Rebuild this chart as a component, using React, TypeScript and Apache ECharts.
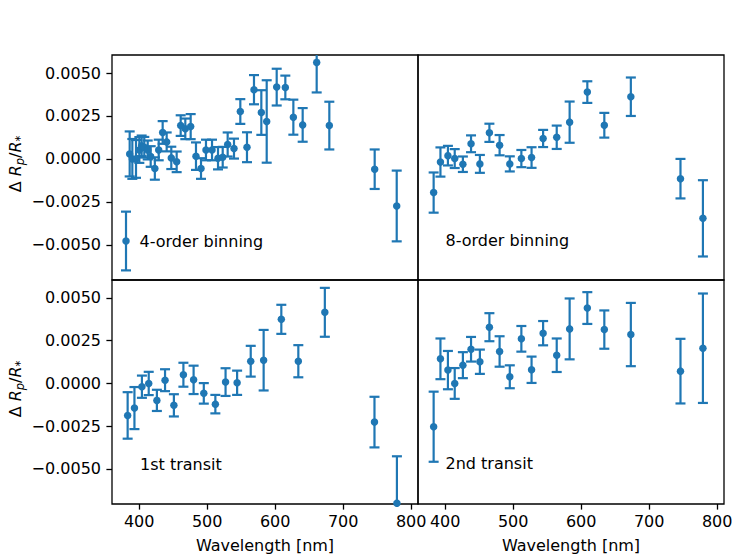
import React, { useEffect, useRef } from "react";
import * as echarts from "echarts";

// ---- data (wavelength in nm, ΔRp/R* values and 1σ errors) ----
const wl4 = [380.6, 386.0, 389.9, 395.3, 400.2, 403.6, 407.5, 412.5, 416.9, 423.0, 428.7, 434.5, 440.4, 447.2, 455.1, 461.0, 467.8, 475.7, 483.5, 490.9, 498.2, 507.1, 515.9, 522.8, 530.1, 539.4, 548.7, 558.5, 568.8, 579.6, 587.5, 602.2, 614.9, 626.7, 640.4, 661.0, 679.6, 746.3, 778.7];
const y4 = [-0.00478, 0.00029, 0.0, 0.0, 0.00052, 0.00076, 0.00068, 0.00052, 0.00014, -0.00056, 0.00052, 0.00154, 0.00099, 0.00006, -0.00017, 0.00194, 0.00175, 0.00188, 0.00016, -0.00056, 0.00052, 0.00052, 0.00004, 0.0001, 0.00084, 0.0006, 0.00276, 0.00068, 0.00403, 0.0027, 0.00218, 0.00418, 0.00416, 0.00243, 0.00198, 0.00562, 0.00194, -0.0006, -0.00274];
const e4 = [0.00171, 0.00131, 0.00116, 0.0011, 0.00075, 0.0006, 0.0006, 0.00055, 0.0006, 0.00065, 0.0006, 0.00066, 0.00055, 0.00065, 0.0006, 0.0006, 0.0006, 0.00073, 0.0008, 0.0006, 0.0006, 0.0006, 0.00065, 0.0006, 0.0007, 0.00058, 0.00072, 0.00087, 0.00085, 0.0013, 0.0024, 0.00107, 0.00069, 0.00102, 0.00098, 0.00175, 0.00139, 0.00115, 0.00206];

const wl = [383, 393, 404, 414, 426, 438, 451, 465, 480, 495, 512, 527, 544, 564, 583, 609, 634, 673, 746, 779];
const y8 = [-0.00196, -0.00018, 0.00019, 0.00002, -0.00031, 0.00088, -0.00029, 0.00152, 0.0008, -0.00029, 0.00002, 0.00008, 0.00119, 0.00126, 0.00214, 0.00389, 0.00196, 0.00362, -0.00115, -0.00346];
const e8 = [0.00117, 0.00085, 0.00057, 0.00055, 0.00045, 0.00049, 0.00052, 0.00053, 0.00059, 0.00044, 0.0005, 0.0006, 0.0005, 0.00068, 0.0012, 0.00063, 0.00072, 0.00112, 0.00115, 0.00222];
const y1 = [-0.00187, -0.00144, -0.00019, 0.0, -0.00099, 0.00019, -0.00128, 0.00051, 0.00021, -0.00058, -0.00121, 0.00008, 0.00004, 0.0013, 0.00136, 0.00375, 0.0013, 0.00416, -0.00226, -0.007];
const e1 = [0.00136, 0.00123, 0.00065, 0.00068, 0.00062, 0.00064, 0.00065, 0.0007, 0.00083, 0.0006, 0.00054, 0.00081, 0.00071, 0.0009, 0.00177, 0.00085, 0.00094, 0.00143, 0.00148, 0.00274];
const y2 = [-0.00253, 0.00144, 0.00078, 0.0, 0.00107, 0.002, 0.00127, 0.00329, 0.00187, 0.00039, 0.00261, 0.0008, 0.00294, 0.00165, 0.00319, 0.00441, 0.00315, 0.00286, 0.00072, 0.00206];
const e2 = [0.00205, 0.00119, 0.00112, 0.0009, 0.00076, 0.00072, 0.00071, 0.00082, 0.00089, 0.00067, 0.00075, 0.00077, 0.00071, 0.00098, 0.00178, 0.00093, 0.00112, 0.00185, 0.00189, 0.0032];

const panelLabels = ["4-order binning", "8-order binning", "1st transit", "2nd transit"];
const xTicks = [400, 500, 600, 700, 800];
const yTicks = [-0.005, -0.0025, 0, 0.0025, 0.005];

const COLOR = "#1f77b4";
const FONT = "DejaVu Sans";

export default function App() {
  const ref = useRef<HTMLDivElement>(null);
  useEffect(() => {
    document.body.style.margin = "0";
    const chart = echarts.init(ref.current!, null, { renderer: "svg" });
    const panels = [
      { x: wl4, y: y4, e: e4 },
      { x: wl, y: y8, e: e8 },
      { x: wl, y: y1, e: e1 },
      { x: wl, y: y2, e: e2 },
    ];
    const grids = [
      { left: 112, top: 55, width: 306, height: 225 },
      { left: 418, top: 55, width: 306, height: 225 },
      { left: 112, top: 280, width: 306, height: 224 },
      { left: 418, top: 280, width: 306, height: 224 },
    ].map((g) => ({ ...g, show: true, borderColor: "#000", borderWidth: 1.3, backgroundColor: "transparent", containLabel: false }));

    const fmtY = (v: number) => (v < 0 ? "\u2212" : "") + Math.abs(v).toFixed(4);

    const xAxis = [0, 1, 2, 3].map((i) => {
      const bottom = i >= 2;
      return {
        type: "value",
        gridIndex: i,
        position: "bottom",
        min: 360,
        max: 810,
        axisLine: { show: false, onZero: false },
        splitLine: { show: false },
        axisTick: { show: bottom, length: 5.6, customValues: xTicks, lineStyle: { color: "#000", width: 1.3 } },
        axisLabel: { show: bottom, customValues: xTicks, margin: 9, fontSize: 16, color: "#000", fontFamily: FONT },
        name: bottom ? "Wavelength [nm]" : "",
        nameLocation: "middle",
        nameGap: 33,
        nameTextStyle: { fontSize: 16, color: "#000", fontFamily: FONT },
      };
    });
    const yAxis = [0, 1, 2, 3].map((i) => {
      const left = i % 2 === 0;
      return {
        type: "value",
        gridIndex: i,
        position: "left",
        min: -0.00705,
        max: 0.00605,
        axisLine: { show: false, onZero: false },
        splitLine: { show: false },
        axisTick: { show: left, length: 5.6, customValues: yTicks, lineStyle: { color: "#000", width: 1.3 } },
        axisLabel: { show: left, customValues: yTicks, margin: 11, fontSize: 16, color: "#000", fontFamily: FONT, formatter: fmtY },
      };
    });

    const series: any[] = [];
    panels.forEach((p, i) => {
      const data = p.x.map((x, k) => [x, p.y[k], p.e[k]]);
      series.push({
        type: "custom",
        xAxisIndex: i,
        yAxisIndex: i,
        clip: true,
        z: 2,
        dimensions: ["x", "y", "e"],
        encode: { x: 0, y: 1 },
        data,
        renderItem: (params: any, api: any) => {
          const x = api.value(0);
          const y = api.value(1);
          const e = api.value(2);
          const t = api.coord([x, y + e]);
          const b = api.coord([x, y - e]);
          const cap = 5;
          const st = { stroke: COLOR, lineWidth: 2.2 };
          return {
            type: "group",
            children: [
              { type: "line", shape: { x1: t[0], y1: t[1], x2: b[0], y2: b[1] }, style: st },
              { type: "line", shape: { x1: t[0] - cap, y1: t[1], x2: t[0] + cap, y2: t[1] }, style: st },
              { type: "line", shape: { x1: b[0] - cap, y1: b[1], x2: b[0] + cap, y2: b[1] }, style: st },
            ],
          };
        },
      });
      series.push({
        type: "scatter",
        xAxisIndex: i,
        yAxisIndex: i,
        z: 3,
        clip: true,
        symbolSize: 7.5,
        itemStyle: { color: COLOR, opacity: 1 },
        data: p.x.map((x, k) => [x, p.y[k]]),
      });
    });

    const labelPos = [
      [139.5, 241],
      [445.5, 240],
      [140, 464],
      [445.5, 463],
    ];
    const graphic: any[] = panelLabels.map((t, i) => ({
      type: "text",
      x: labelPos[i][0],
      y: labelPos[i][1],
      style: { text: t, fontSize: 16, fontFamily: FONT, fill: "#000", align: "left", verticalAlign: "middle" },
    }));
    const ylab = (cy: number) => ({
      type: "text",
      x: 15,
      y: cy,
      rotation: Math.PI / 2,
      style: {
        text: "{n|\u0394 }{i|R}{s|p}{n|/}{i|R}{s|*}",
        fontSize: 16,
        fontFamily: FONT,
        fill: "#000",
        align: "center",
        verticalAlign: "middle",
        rich: {
          n: { fontSize: 16, fontFamily: FONT, lineHeight: 22, verticalAlign: "middle", fill: "#000" },
          i: { fontSize: 16, fontFamily: FONT, fontStyle: "italic", lineHeight: 22, verticalAlign: "middle", fill: "#000" },
          s: { fontSize: 11.5, fontFamily: FONT, fontStyle: "italic", lineHeight: 13, verticalAlign: "bottom", fill: "#000" },
        },
      },
    });
    graphic.push(ylab(164), ylab(389));

    chart.setOption({
      animation: false,
      grid: grids,
      xAxis,
      yAxis,
      series,
      graphic,
    });
    return () => chart.dispose();
  }, []);
  return <div ref={ref} style={{ width: 747, height: 560 }} />;
}
